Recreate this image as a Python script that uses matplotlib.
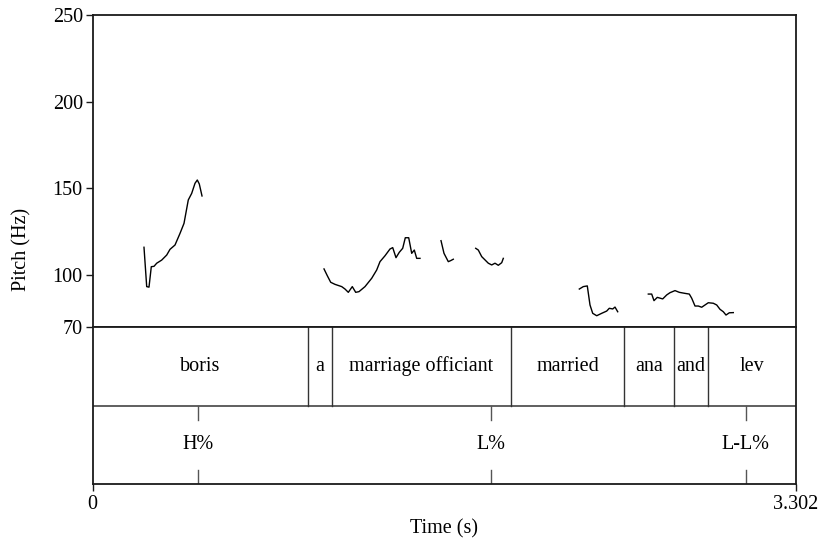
import matplotlib
matplotlib.use("Agg")
import matplotlib.pyplot as plt

plt.rcParams['font.family'] = ['Liberation Serif', 'DejaVu Serif']

# Pitch contour segments (time s, pitch Hz)
seg1_t = [0.2418, 0.2545, 0.2653, 0.2761, 0.2888, 0.3015, 0.3249, 0.3484, 0.3639, 0.3874,
          0.4109, 0.4297, 0.4498, 0.4658, 0.4813, 0.4921, 0.5015, 0.5142]
seg1_f = [116, 93.3, 93, 104.8, 105, 106.8, 108.6, 111.5, 114.8, 117.3,
          124, 129.8, 143.3, 147.1, 152.9, 154.8, 152.5, 145.6]
seg2_t = [1.0871, 1.1025, 1.1185, 1.1387, 1.1702, 1.1857, 1.2012, 1.2199, 1.2359, 1.2514,
          1.2796, 1.3110, 1.3345, 1.3500, 1.3735, 1.3970, 1.4097, 1.4251, 1.4406, 1.4566,
          1.4688, 1.4848, 1.4989, 1.5111, 1.5223, 1.5378]
seg2_f = [103.5, 99.6, 95.8, 94.6, 93.3, 91.9, 90, 93.3, 90, 90.4,
          93.3, 98.1, 102.9, 107.7, 111.1, 115, 115.8, 110, 113.1, 115.4,
          121.5, 121.5, 112.5, 114.4, 109.6, 109.6]
seg3_t = [1.6365, 1.6505, 1.6707, 1.6820, 1.6942]
seg3_f = [119.8, 112.5, 107.7, 108.3, 109.1]
seg4_t = [1.7994, 1.8116, 1.8276, 1.8431, 1.8586, 1.8745, 1.8900, 1.9055, 1.9215, 1.9290]
seg4_f = [115.4, 114.4, 110.6, 108.7, 106.8, 105.8, 106.8, 105.6, 107.1, 109.6]
seg5_t = [2.2859, 2.3046, 2.3234, 2.3361, 2.3488, 2.3676, 2.3911, 2.4145, 2.4267, 2.4427,
          2.4535, 2.4662]
seg5_f = [91.9, 93.3, 93.7, 82.7, 77.9, 76.5, 77.9, 79.2, 80.8, 80.4, 81.5, 78.8]
seg6_t = [2.6099, 2.6258, 2.6366, 2.6521, 2.6775, 2.6963, 2.7118, 2.7353, 2.7554, 2.7822,
          2.8024, 2.8137, 2.8292, 2.8447, 2.8606, 2.8761, 2.8916, 2.9151, 2.9311, 2.9466,
          2.9621, 2.9747, 2.9902, 3.0090]
seg6_f = [89.0, 89.0, 85.2, 87.1, 86.2, 88.5, 89.8, 91.0, 90.0, 89.4,
          89.0, 86.6, 82.1, 82.1, 81.4, 82.7, 84.0, 83.7, 82.7, 80.2,
          78.8, 76.9, 78.2, 78.3]

segments = [(seg1_t, seg1_f), (seg2_t, seg2_f), (seg3_t, seg3_f),
            (seg4_t, seg4_f), (seg5_t, seg5_f), (seg6_t, seg6_f)]

# Word tier
word_bounds = [0.0, 1.013, 1.125, 1.964, 2.497, 2.732, 2.889, 3.302]
word_labels = ["boris", "a", "marriage officiant", "married", "ana", "and", "lev"]

# Tone tier
tone_times = [0.495, 1.871, 3.067]
tone_labels = ["H%", "L%", "L-L%"]

t_max = 3.302
pitch_ticks = [70, 100, 150, 200, 250]

FS = 14.5
fig = plt.figure(figsize=(8.21, 5.41), dpi=100)
L, R = 92.5 / 821, 795.7 / 821
ax = fig.add_axes([L, 1 - 327 / 541, R - L, (327 - 15) / 541])
axt = fig.add_axes([L, 1 - 484 / 541, R - L, (484 - 327) / 541])

fc = '#1a1a1a'
for t, f in segments:
    ax.plot(t, f, color='black', lw=1.0)
ax.set_xlim(0, t_max)
ax.set_ylim(70, 250)
ax.set_yticks(pitch_ticks)
ax.set_yticklabels([str(v) for v in pitch_ticks], fontsize=FS)
ax.set_xticks([])
ax.tick_params(axis='y', direction='out', length=5, width=1.0, pad=2, color=fc)
for s in ax.spines.values():
    s.set_linewidth(1.3)
    s.set_color(fc)
fig.text(22 / 821, 1 - 249 / 541, "Pitch (Hz)", rotation=90, ha='center', va='center',
         fontsize=FS)

axt.set_xlim(0, t_max)
axt.set_ylim(0, 2)
axt.set_yticks([])
axt.set_xticks([0, t_max])
axt.set_xticklabels(["0", "3.302"], fontsize=FS)
axt.tick_params(axis='x', direction='out', length=5, width=1.0, pad=3, color=fc)
for s in axt.spines.values():
    s.set_linewidth(1.3)
    s.set_color(fc)
axt.axhline(1, color='#444444', lw=1.2)
for b in word_bounds[1:-1]:
    axt.plot([b, b], [1, 2], color='#333333', lw=1.0)
for i, lab in enumerate(word_labels):
    xc = 0.5 * (word_bounds[i] + word_bounds[i + 1])
    axt.text(xc, 1.5, lab, ha='center', va='center', fontsize=FS)
for tt, lab in zip(tone_times, tone_labels):
    axt.plot([tt, tt], [0.82, 1], color='#555555', lw=1.0)
    axt.plot([tt, tt], [0, 0.18], color='#555555', lw=1.0)
    axt.text(tt, 0.5, lab, ha='center', va='center', fontsize=FS)
axt.set_xlabel("Time (s)", fontsize=FS, labelpad=4)

fig.savefig("out.png", dpi=100)
